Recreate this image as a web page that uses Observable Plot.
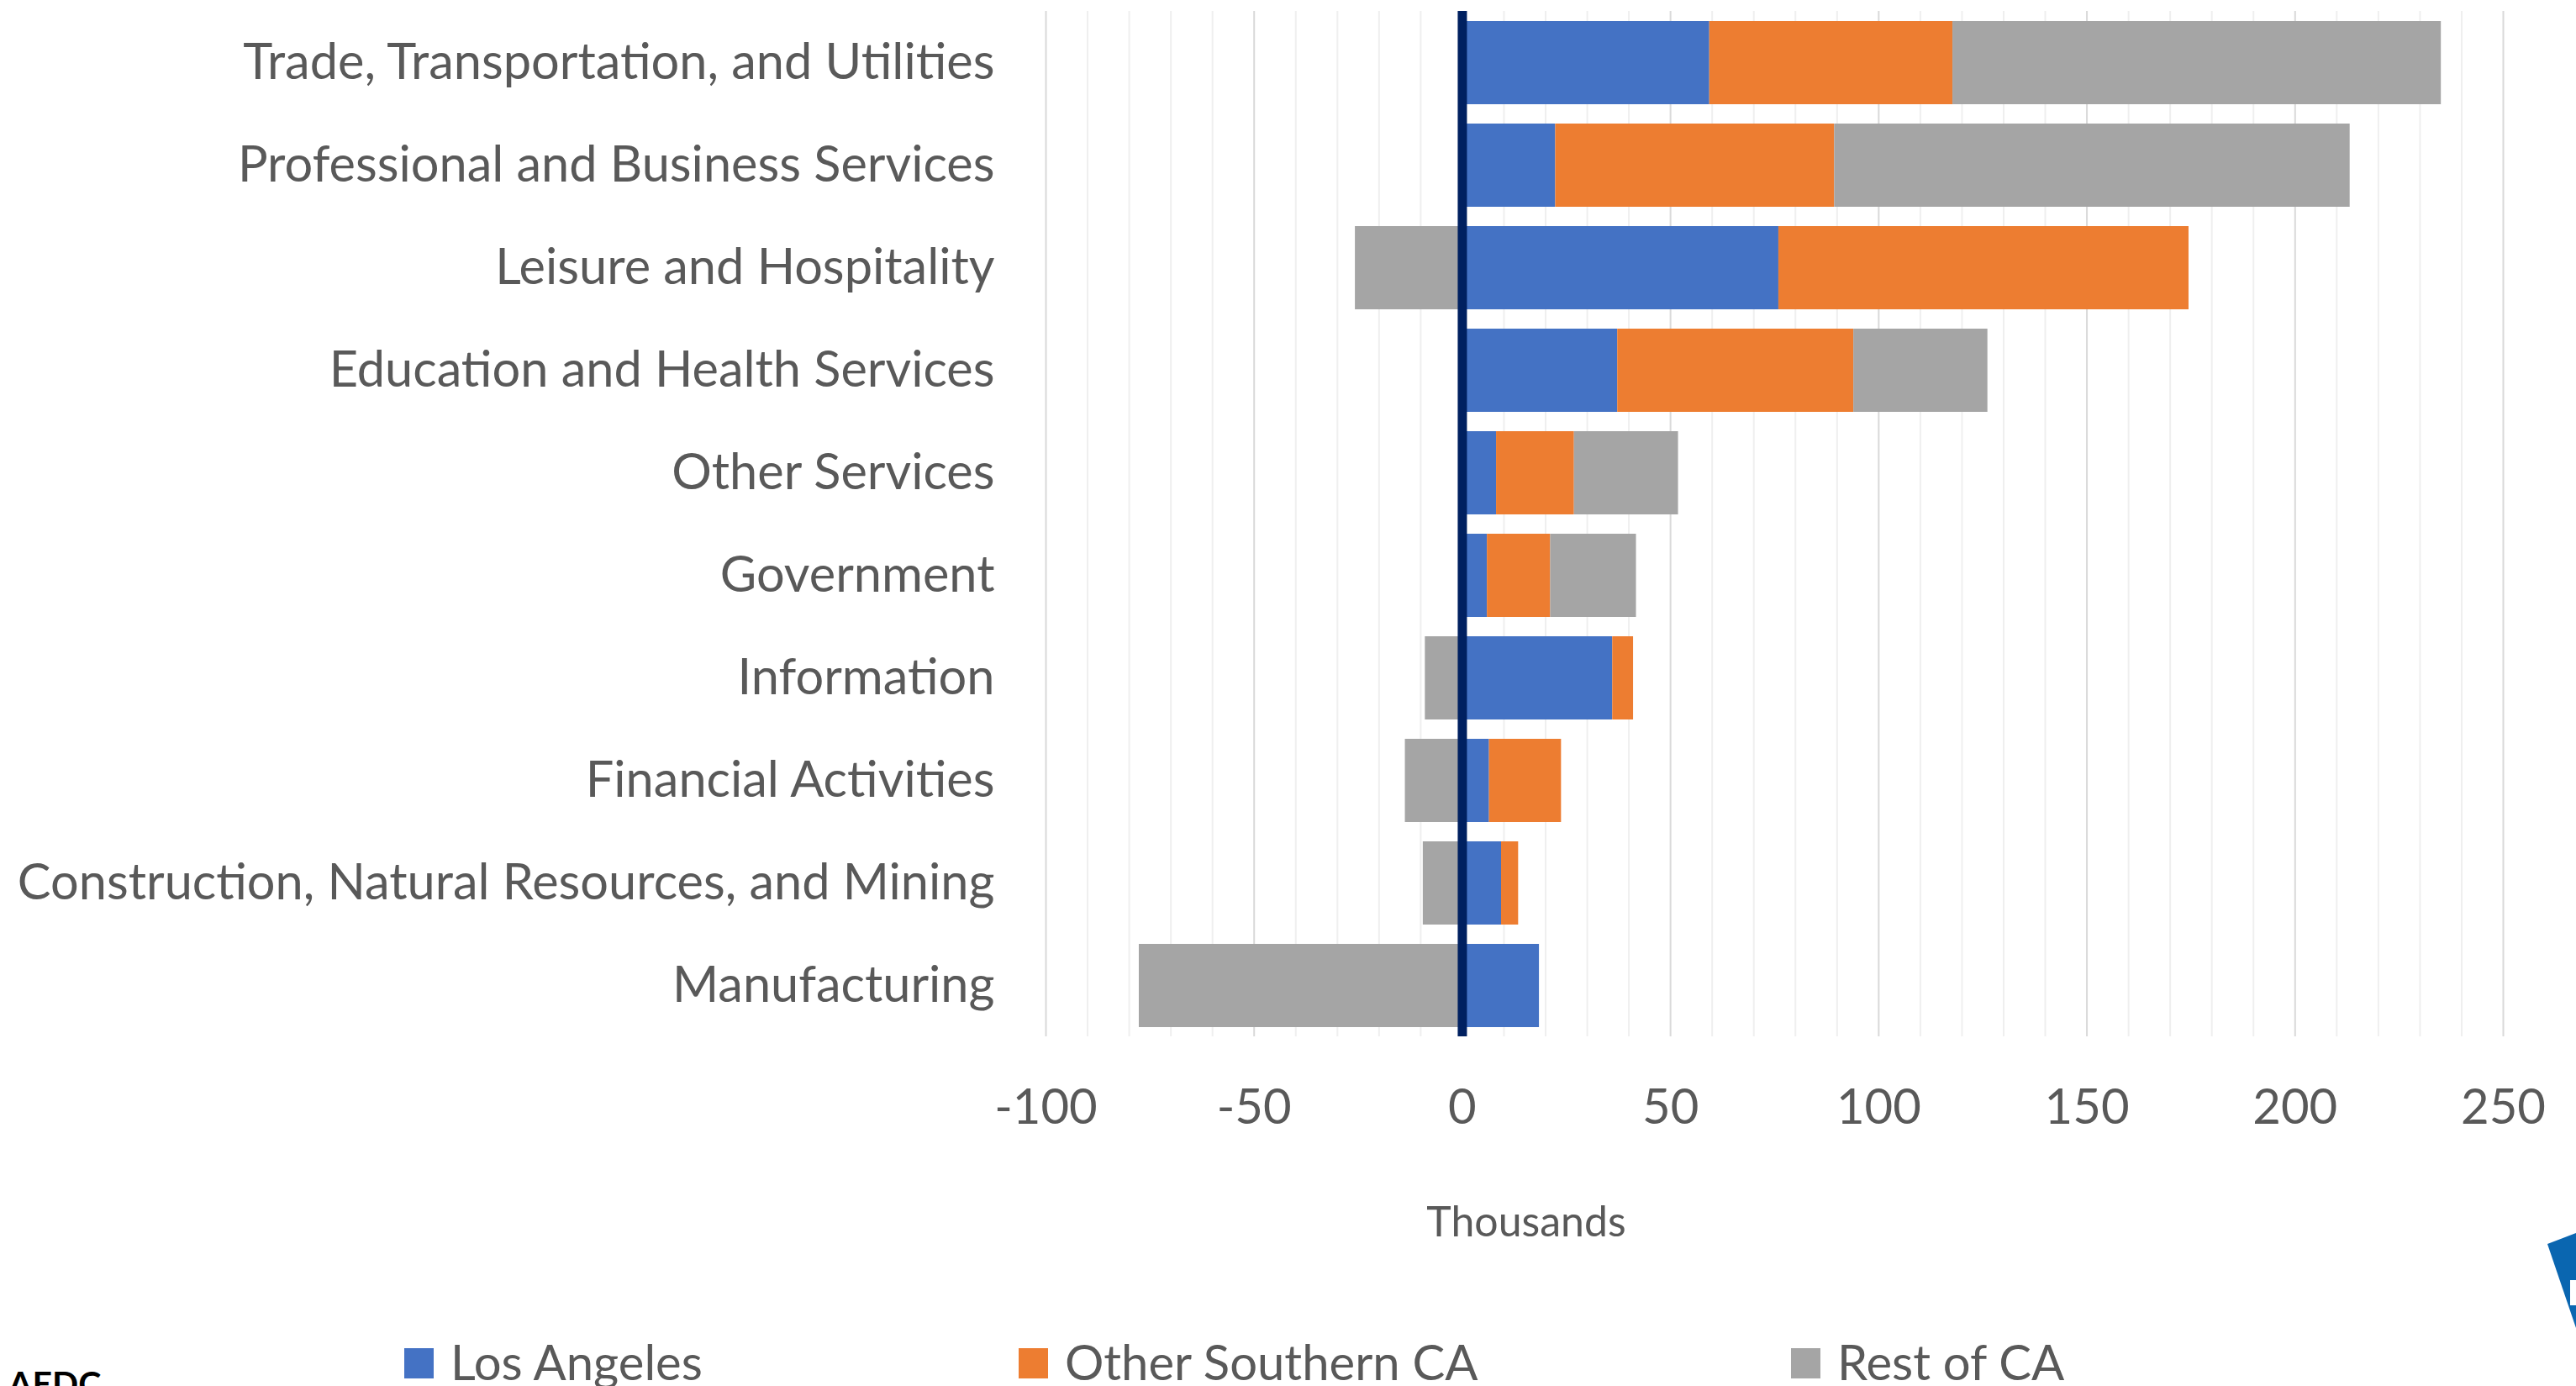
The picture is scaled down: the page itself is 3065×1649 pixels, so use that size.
<!DOCTYPE html>
<html>
<head>
<meta charset="utf-8">
<script src="https://cdn.jsdelivr.net/npm/d3@7"></script>
<script src="https://cdn.jsdelivr.net/npm/@observablehq/plot@0.6"></script>
<style>
  html, body { margin: 0; padding: 0; background: #fff; }
  #root { position: relative; width: 3065px; height: 1649px; overflow: hidden; font-family: Lato, sans-serif; color: #595959; }
  #chart { position: absolute; left: 0; top: 0; }
  .xlabel { position: absolute; font-size: 50px; line-height: 50px; white-space: nowrap; transform: translateX(-50%); }
  .legend-item { position: absolute; display: flex; align-items: flex-start; height: 60px; font-size: 58px; line-height: 60px; white-space: nowrap; }
  .legend-item .sw { width: 35px; height: 36px; margin-top: 15px; margin-right: 20px; flex: none; }
  .source { position: absolute; left: 10px; font-weight: 700; color: #000; font-size: 41px; line-height: 41px; }
  .logo { position: absolute; overflow: visible; }
</style>
</head>
<body>
<div id="root"><div id="chart"></div></div>
<script>
// ---- data ----
const categories = [
  "Trade, Transportation, and Utilities",
  "Professional and Business Services",
  "Leisure and Hospitality",
  "Education and Health Services",
  "Other Services",
  "Government",
  "Information",
  "Financial Activities",
  "Construction, Natural Resources, and Mining",
  "Manufacturing"
];
const seriesNames = ["Los Angeles", "Other Southern CA", "Rest of CA"];
const seriesColors = ["#4472C4", "#ED7D31", "#A5A5A5"];
const losAngeles      = [59.4, 22.4, 76.0, 37.3, 8.2, 6.0, 36.1, 6.5, 9.4, 18.5];
const otherSouthernCA = [58.4, 67.0, 98.5, 56.7, 18.7, 15.2, 5.0, 17.3, 4.1, 0];
const restOfCA        = [117.3, 123.8, -25.7, 32.2, 25.0, 20.6, -8.9, -13.7, -9.4, -77.6];
const xTicks = [-100, -50, 0, 50, 100, 150, 200, 250];
const minorTicks = [-90, -80, -70, -60, -40, -30, -20, -10, 10, 20, 30, 40, 60, 70, 80, 90, 110, 120, 130, 140, 160, 170, 180, 190, 210, 220, 230, 240];
const xLabel = "Thousands";
const sourceText = "AEDC";

// ---- layout constants ----
const W = 3065, H = 1400;
const legendLefts = [481, 1212, 2131];

const seriesValues = [losAngeles, otherSouthernCA, restOfCA];
const data = categories.flatMap((c, i) =>
  seriesNames.map((s, j) => ({category: c, series: s, value: seriesValues[j][i]}))
);

const chart = Plot.plot({
  width: W,
  height: H,
  marginTop: 13,
  marginBottom: 167,
  marginLeft: 1244,
  marginRight: 87,
  style: {fontFamily: "Lato, sans-serif", fontSize: "60px", color: "#595959", background: "transparent"},
  x: {domain: [-100, 250]},
  y: {domain: categories, paddingInner: 0.19, paddingOuter: 0.095},
  color: {domain: seriesNames, range: seriesColors},
  marks: [
    Plot.ruleX(minorTicks, {stroke: "#efefef", strokeWidth: 2}),
    Plot.ruleX(xTicks, {stroke: "#d9d9d9", strokeWidth: 2}),
    Plot.barX(data, {x: "value", y: "category", fill: "series", order: seriesNames}),
    Plot.ruleX([0], {stroke: "#002060", strokeWidth: 11}),
    Plot.axisX({ticks: xTicks, tickSize: 0, tickPadding: 62, label: null, fontSize: 58, tickFormat: d => String(d)}),
    Plot.axisY({tickSize: 0, tickPadding: 61, label: null, fontSize: 59.5})
  ]
});
document.getElementById("chart").appendChild(chart);

const root = document.getElementById("root");

// axis title
const xl = document.createElement("div");
xl.className = "xlabel";
xl.style.left = "1816px";
xl.style.top = "1427px";
xl.textContent = xLabel;
root.appendChild(xl);

// legend
seriesNames.forEach((s, j) => {
  const item = document.createElement("div");
  item.className = "legend-item";
  item.style.left = legendLefts[j] + "px";
  item.style.top = "1590px";
  const sw = document.createElement("div");
  sw.className = "sw";
  sw.style.background = seriesColors[j];
  sw.style.marginTop = "14px";
  const t = document.createElement("span");
  t.textContent = s;
  item.appendChild(sw);
  item.appendChild(t);
  root.appendChild(item);
});

// source text (cut off at bottom, as in the reference)
const src = document.createElement("div");
src.className = "source";
src.style.top = "1625px";
src.textContent = sourceText;
root.appendChild(src);

// logo fragment at right edge
const svgNS = "http://www.w3.org/2000/svg";
const logo = document.createElementNS(svgNS, "svg");
logo.setAttribute("class", "logo");
logo.setAttribute("width", "40");
logo.setAttribute("height", "130");
logo.style.left = "3025px";
logo.style.top = "1460px";
const poly = document.createElementNS(svgNS, "polygon");
poly.setAttribute("points", "6,20 40,7 40,120");
poly.setAttribute("fill", "#0a66b0");
logo.appendChild(poly);
const rect = document.createElementNS(svgNS, "rect");
rect.setAttribute("x", "33"); rect.setAttribute("y", "63");
rect.setAttribute("width", "7"); rect.setAttribute("height", "30");
rect.setAttribute("fill", "#fff");
logo.appendChild(rect);
root.appendChild(logo);
</script>
</body>
</html>
